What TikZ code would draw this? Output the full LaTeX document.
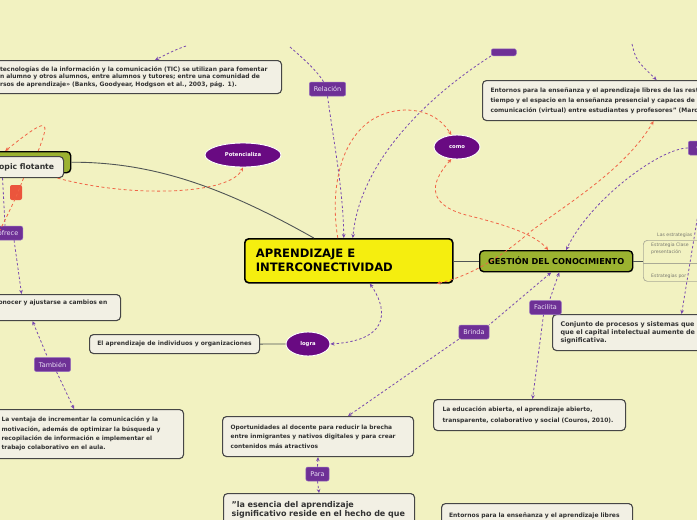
\documentclass[tikz,border=0pt]{standalone}
\usepackage{fontspec}
\setmainfont{DejaVu Sans}
\usetikzlibrary{shapes.geometric,arrows.meta}
\definecolor{bg}{RGB}{242,242,193}
\definecolor{boxfill}{RGB}{242,240,228}
\definecolor{boxline}{RGB}{70,70,70}
\definecolor{boxtext}{RGB}{50,50,50}
\definecolor{labfill}{RGB}{110,48,150}
\definecolor{labline}{RGB}{150,110,190}
\definecolor{labtext}{RGB}{235,225,245}
\definecolor{bubfill}{RGB}{105,10,130}
\definecolor{relpurple}{RGB}{120,72,175}
\definecolor{relorange}{RGB}{240,100,70}
\definecolor{mainyellow}{RGB}{245,238,15}
\definecolor{gesgreen}{RGB}{155,178,48}
\definecolor{linkgray}{RGB}{80,85,85}
\definecolor{grpline}{RGB}{170,170,150}
\definecolor{grptext}{RGB}{120,120,110}
\definecolor{redsq}{RGB}{235,85,60}
\begin{document}
\begin{tikzpicture}[x=1pt, y=-1pt, >={Stealth[length=4pt,width=3.6pt]},
    box/.style={draw=boxline, fill=boxfill, line width=1.1pt, rounded corners=4pt,
      anchor=north west, align=left, inner ysep=0pt, text=boxtext,
      font=\bfseries\fontsize{5.7}{9.5}\selectfont},
    lab/.style={fill=labfill, draw=labline, line width=0.5pt, rounded corners=2pt,
      text=labtext, font=\fontsize{6.5}{7}\selectfont, minimum height=14pt,
      inner xsep=4.5pt, inner ysep=0pt},
    bub/.style={ellipse, fill=bubfill, draw=white, line width=0.9pt, text=white,
      font=\bfseries\fontsize{5.3}{6}\selectfont, inner sep=0pt, minimum height=24pt},
    rel/.style={draw=relpurple, line width=0.8pt, dash pattern=on 2.4pt off 2.2pt},
    relred/.style={draw=relorange, line width=0.8pt, dash pattern=on 3pt off 2.6pt},
    link/.style={draw=linkgray, line width=0.9pt}]

  \useasboundingbox (0,0) rectangle (697,520);
  \fill[bg] (0,0) rectangle (697,520);
  \clip (0,0) rectangle (697,520);

  % temas centrales
  \node[box, draw=black, fill=mainyellow, line width=1.6pt, inner xsep=11pt,
    text width=186pt, minimum height=44pt, text=black,
    font=\bfseries\fontsize{11.6}{14}\selectfont] (main) at (244,238)
    {APRENDIZAJE E\\INTERCONECTIVIDAD};
  \node[box, draw=black, fill=gesgreen, line width=1.4pt, align=center,
    minimum width=153pt, minimum height=21pt, text=black,
    font=\bfseries\fontsize{8.2}{9}\selectfont] (ges) at (479,250)
    {GESTIÓN DEL CONOCIMIENTO};
  \node[box, draw=black, fill=gesgreen, line width=1.4pt,
    minimum width=95pt, minimum height=21pt] (topicbg) at (-25,151) {};
  \node[box, align=center, minimum width=78pt, minimum height=21pt,
    font=\bfseries\fontsize{7.7}{9}\selectfont] (topic) at (-15,156) {Topic flotante};
  \fill[redsq, rounded corners=2pt] (10,185) rectangle (22,200);

  % textos
  \node[box, inner xsep=9.5pt, text width=272pt, minimum height=33pt,
    font=\bfseries\fontsize{6}{7.8}\selectfont] (tl) at (-10,60)
    {tecnologías de la información y la comunicación (TIC) se utilizan para fomentar\\
     n alumno y otros alumnos, entre alumnos y tutores; entre una comunidad de\\
     rsos de aprendizaje» (Banks, Goodyear, Hodgson et al., 2003, pág. 1).};
  \node[box, inner xsep=8pt, text width=260pt, minimum height=40pt,
    font=\bfseries\fontsize{6}{10}\selectfont] (tr) at (482,80)
    {Entornos para la enseñanza y el aprendizaje libres de las rest\\
     tiempo y el espacio en la enseñanza presencial y capaces de a\\
     comunicación (virtual) entre estudiantes y profesores" (Marc};
  \node[box, inner xsep=8pt, text width=200pt, minimum height=36pt,
    font=\bfseries\fontsize{6.4}{8.2}\selectfont] (conj) at (552,314)
    {Conjunto de procesos y sistemas que\\
     que el capital intelectual aumente de\\
     significativa.};
  \node[box, inner xsep=10pt, text width=112pt, minimum height=26pt,
    text depth=10pt, font=\bfseries\fontsize{6}{9.5}\selectfont] (ono) at (-12,294)
    {onocer y ajustarse a cambios en};
  \node[box, inner xsep=13pt, text width=169pt, minimum height=49pt,
    font=\bfseries\fontsize{5.9}{9.4}\selectfont] (ven) at (-12,409)
    {La ventaja de incrementar la comunicación y la\\
     motivación, además de optimizar la búsqueda y\\
     recopilación de información e implementar el\\
     trabajo colaborativo en el aula.};
  \node[box, align=center, minimum width=170pt, minimum height=19pt,
    font=\bfseries\fontsize{6}{9.5}\selectfont] (apr) at (89,334)
    {El aprendizaje de individuos y organizaciones};
  \node[box, inner xsep=8pt, text width=175pt, minimum height=40pt,
    font=\bfseries\fontsize{5.9}{9.5}\selectfont] (oport) at (222,416)
    {Oportunidades al docente para reducir la brecha\\
     entre inmigrantes y nativos digitales y para crear\\
     contenidos más atractivos};
  \node[box, inner xsep=8pt, text width=175pt, minimum height=33pt,
    font=\bfseries\fontsize{8}{9}\selectfont] (esen) at (223,493)
    {"la esencia del aprendizaje\\
     significativo reside en el hecho de que};
  \node[box, inner xsep=9pt, text width=174pt, minimum height=31pt,
    font=\bfseries\fontsize{5.95}{11}\selectfont] (educ) at (433,399)
    {La educación abierta, el aprendizaje abierto,\\
     transparente, colaborativo y social (Couros, 2010).};
  \node[box, inner xsep=7.5pt, text width=176pt, minimum height=24pt,
    font=\bfseries\fontsize{6}{9.5}\selectfont] (ent) at (441,503)
    {Entornos para la enseñanza y el aprendizaje libres};

  % grupo de la derecha
  \node[draw=grpline, line width=0.7pt, rounded corners=4pt, anchor=north west,
    minimum width=90pt, minimum height=41pt] (grp) at (643,240) {};
  \draw[grpline, line width=0.7pt] (643,263) -- (735,263);
  \tikzset{grptx/.style={anchor=base west, text=grptext, inner sep=0pt,
    font=\fontsize{4.6}{6.6}\selectfont, align=left}}
  \node[grptx] (g1) at (657,236) {Las estrategias};
  \node[grptx] (g2) at (651,253) {Estrategia Clase\\presentación};
  \node[grptx] (g3) at (651,277) {Estrategias por};

  % burbujas
  \node[bub, minimum width=76pt] (pot) at (243,155) {Potencializa};
  \node[bub, minimum width=46pt] (como) at (457,147) {como};
  \node[bub, minimum width=44pt] (logra) at (308,344) {logra};

  % etiquetas
  \node[lab] (rel) at (327.5,89) {Relación};
  \node[lab] (fac) at (545.5,307.5) {Facilita};
  \node[lab] (bri) at (474,332) {Brinda};
  \node[lab] (tam) at (52.5,364.5) {También};
  \node[lab, anchor=east] (ofr) at (23,233) {ofrece};
  \node[lab] (para) at (317.5,474) {Para};
  \node[lab, anchor=west, minimum width=20pt] (elab) at (688,148) {e};
  \node[lab, anchor=south west, minimum width=25pt, minimum height=7pt] (toplab) at (491,56) {};

  % lineas del mapa
  \draw[link] (topicbg.east) .. controls (150,162) and (220,185) .. ([xshift=-35pt]main.north);
  \draw[link] (main.east |- ges.west) -- (ges.west);
  \draw[link] (ges.east) -- (grp.west |- ges.east);
  \draw[link] (apr.east) -- (logra.west);

  % relaciones
  \coordinate (f1) at (186,46);
  \coordinate (f2) at (290,47);
  \coordinate (f3) at (632,44);
  \coordinate (f4) at (701,196);
  \coordinate (f5) at (-6,242);
  \draw[rel, ->] (f1) .. controls (175,50) .. ([xshift=19pt]tl.north);
  \draw[rel] (f2) .. controls (305,60) and (318,72) .. ([xshift=-4pt]rel.north);
  \draw[rel, ->] (rel.south) .. controls (335,150) and (343,190) .. ([xshift=-5pt]main.north);
  \draw[rel, ->] (toplab.south west) .. controls (430,95) and (360,160) .. ([xshift=4pt]main.north);
  \draw[rel, ->] (f3) .. controls (636,60) .. ([xshift=36pt]tr.north);
  \draw[rel, ->] (elab.west) .. controls (660,148) and (590,200) .. ([xshift=10pt]ges.north);
  \draw[rel, ->] (f4) -- ([xshift=21pt]conj.north);
  \draw[rel, <-] ([xshift=3pt]ges.south) -- ([xshift=4pt]fac.north);
  \draw[rel, ->] ([xshift=-2pt]fac.south) -- ([xshift=3pt]educ.north);
  \draw[rel, <-] ([xshift=-5pt]ges.south) -- (bri.north east);
  \draw[rel, ->] (bri.south west) -- ([xshift=30pt]oport.north);
  \draw[rel, <->] ([xshift=21pt]main.south) .. controls (385,305) and (395,340) .. (logra.east);
  \draw[rel, <-] (oport.south) -- (para.north);
  \draw[rel, ->] (para.south) -- (esen.north);
  \draw[rel] ([xshift=-22pt]topic.south) -- ([xshift=-3pt]ofr.north);
  \draw[rel, ->] ([xshift=6pt]ofr.south) -- ([xshift=-33pt]ono.north);
  \draw[rel, <-] ([xshift=-22pt]ono.south) -- ([xshift=-5pt]tam.north);
  \draw[rel, ->] ([xshift=4pt]tam.south) -- ([xshift=-12pt]ven.north);

  \draw[relred, ->] ([xshift=-11pt]main.north) .. controls (328,180) and (345,112) .. (405,110)
    .. controls (428,110) and (442,120) .. (como.115);
  \draw[relred, <->] (como.245) .. controls (428,185) and (428,206) .. (470,216)
    .. controls (510,226) and (535,235) .. ([xshift=-8pt]ges.north);
  \draw[relred, <->] ([xshift=88pt]main.south) .. controls (470,276) and (500,258) .. (530,232)
    .. controls (565,205) and (625,170) .. ([xshift=33pt]tr.south);
  \draw[relred, ->] ([xshift=33pt]topic.south) .. controls (130,198) and (230,195) .. (pot.south);
  \draw[relred, ->] ([xshift=15pt]topicbg.north) .. controls (50,120) and (50,115) .. ([xshift=-18pt]topicbg.north);
  \draw[relred] ([xshift=-1pt]topic.south) .. controls (15,200) .. (f5);
\end{tikzpicture}
\end{document}
